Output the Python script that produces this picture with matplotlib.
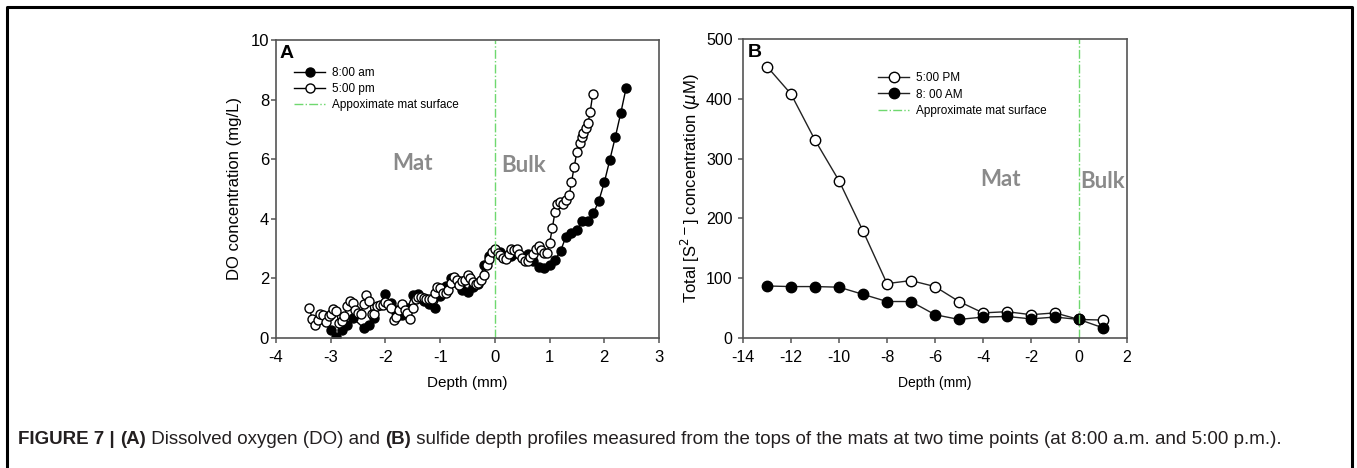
import matplotlib
matplotlib.use("Agg")
import matplotlib.pyplot as plt
from matplotlib.lines import Line2D

plt.rcParams["font.family"] = ["Liberation Sans", "DejaVu Sans"]
plt.rcParams["axes.unicode_minus"] = False

# ---- Panel A: dissolved oxygen (mg/L) vs depth (mm)
am_depth = [-3.0, -2.9, -2.8, -2.7, -2.6, -2.4, -2.3, -2.2, -2.0, -1.9, -1.8, -1.7,
            -1.6, -1.5, -1.4, -1.3, -1.2, -1.1, -1.0, -0.9, -0.8, -0.7, -0.6, -0.5,
            -0.4, -0.3, -0.2, -0.1, 0.0, 0.1, 0.2, 0.3, 0.4, 0.5, 0.6, 0.7, 0.8, 0.9,
            1.0, 1.1, 1.2, 1.3, 1.4, 1.5, 1.6, 1.7, 1.8, 1.9, 2.0, 2.1, 2.2, 2.3, 2.4]
am_do = [0.28, 0.03, 0.26, 0.45, 0.67, 0.34, 0.45, 0.67, 1.47, 1.17, 0.95, 0.78,
         1.00, 1.45, 1.49, 1.23, 1.15, 1.00, 1.40, 1.73, 2.03, 1.88, 1.62, 1.56,
         1.71, 1.81, 2.44, 2.76, 2.95, 2.88, 2.74, 2.74, 2.85, 2.72, 2.82, 2.60, 2.37, 2.34,
         2.45, 2.62, 2.92, 3.40, 3.51, 3.62, 3.93, 3.93, 4.18, 4.60, 5.22, 5.97, 6.73, 7.54, 8.40]

pm_depth = [-3.39, -3.34, -3.29, -3.24, -3.19, -3.14, -3.08, -3.04, -2.99, -2.95, -2.90,
            -2.85, -2.80, -2.75, -2.70, -2.65, -2.60, -2.55, -2.50, -2.45, -2.40, -2.35,
            -2.30, -2.25, -2.20, -2.15, -2.10, -2.05, -2.00, -1.95, -1.90, -1.85, -1.80,
            -1.75, -1.70, -1.65, -1.60, -1.55, -1.50, -1.45, -1.40, -1.35, -1.30, -1.25,
            -1.20, -1.15, -1.10, -1.05, -1.00, -0.95, -0.90, -0.85, -0.80, -0.75, -0.70,
            -0.65, -0.60, -0.55, -0.50, -0.45, -0.40, -0.35, -0.30, -0.25, -0.20, -0.15,
            -0.10, -0.05, 0.00, 0.05, 0.10, 0.15, 0.20, 0.25, 0.30, 0.35, 0.40, 0.45,
            0.50, 0.55, 0.60, 0.65, 0.70, 0.75, 0.80, 0.85, 0.90, 0.95, 1.00, 1.05,
            1.10, 1.14, 1.19, 1.24, 1.30, 1.36, 1.40, 1.45, 1.50, 1.55, 1.59, 1.62,
            1.66, 1.70, 1.74, 1.79]
pm_do = [1.01, 0.64, 0.45, 0.61, 0.80, 0.78, 0.54, 0.75, 0.80, 0.97, 0.89,
         0.50, 0.56, 0.73, 1.08, 1.23, 1.17, 0.93, 0.84, 0.82, 1.15, 1.43,
         1.25, 0.82, 0.80, 1.08, 1.12, 1.12, 1.20, 1.14, 1.01, 0.59, 0.70,
         0.93, 1.15, 0.93, 0.84, 0.65, 1.01, 1.32, 1.36, 1.36, 1.34, 1.32,
         1.32, 1.31, 1.51, 1.71, 1.68, 1.51, 1.51, 1.62, 1.84, 2.04, 1.93,
         1.79, 1.92, 1.95, 2.10, 2.00, 1.88, 1.80, 1.85, 1.95, 2.10, 2.45,
         2.65, 2.90, 2.97, 2.85, 2.80, 2.68, 2.65, 2.82, 3.00, 2.95, 3.00, 2.82,
         2.68, 2.57, 2.57, 2.72, 2.82, 3.00, 3.10, 2.95, 2.85, 2.84, 3.18, 3.68,
         4.24, 4.50, 4.57, 4.50, 4.63, 4.80, 5.22, 5.75, 6.24, 6.55, 6.75, 6.87,
         7.04, 7.20, 7.57, 8.19]

# ---- Panel B: total sulfide (uM) vs depth (mm)
s_depth = [-13, -12, -11, -10, -9, -8, -7, -6, -5, -4, -3, -2, -1, 0, 1]
s_pm = [454, 408, 331, 263, 179, 91, 96, 86, 61, 42, 44, 39, 42, 31, 30]
s_am = [87, 86, 86, 85, 73, 61, 61, 39, 31, 35, 36, 32, 35, 31, 17]

W, H = 1357, 468
fig = plt.figure(figsize=(W / 100, H / 100), dpi=100)

spine_c = "#555555"
green = "#6fd86f"
gray_txt = "#8a8a8a"


def style_axes(ax, size):
    for s in ax.spines.values():
        s.set_color(spine_c)
        s.set_linewidth(1.2)
    ax.tick_params(axis="both", direction="out", length=3.5, width=1.1,
                   color=spine_c, labelsize=size, top=False, right=False)
    ax.tick_params(axis="x", pad=5)


# panel A
axA = fig.add_axes([276 / W, 1 - 338 / H, 383 / W, 298 / H])
axA.plot(am_depth, am_do, "-o", color="black", lw=1, ms=6.5, mfc="black",
         mec="black", label="8:00 am")
axA.plot(pm_depth, pm_do, "-o", color="black", lw=1, ms=6.5, mfc="white",
         mec="black", mew=1, label="5:00 pm")
axA.axvline(0, color=green, lw=1, ls="-.", label="Appoximate mat surface")
axA.set_xlim(-4, 3)
axA.set_ylim(0, 10)
axA.set_xticks(range(-4, 4))
axA.set_yticks(range(0, 11, 2))
style_axes(axA, 12)
axA.tick_params(axis="y", pad=1.5)
axA.set_xlabel("Depth (mm)", fontsize=11, labelpad=8)
axA.set_ylabel("DO concentration (mg/L)", fontsize=12, labelpad=6)
axA.text(0.01, 0.955, "A", transform=axA.transAxes, fontsize=14,
         fontweight="bold", va="center", ha="left")
axA.text(-1.5, 5.87, "Mat", fontsize=16, fontweight="bold", color=gray_txt,
         family=["Lato", "DejaVu Sans"], ha="center", va="center")
axA.text(0.52, 5.8, "Bulk", fontsize=16, fontweight="bold", color=gray_txt,
         family=["Lato", "DejaVu Sans"], ha="center", va="center")
axA.legend(loc="upper left", bbox_to_anchor=(0.048, 0.91), frameon=False,
           fontsize=8.5, handlelength=2.6, handletextpad=0.6, labelspacing=0.35,
           borderaxespad=0, borderpad=0)

# panel B
axB = fig.add_axes([743 / W, 1 - 338 / H, 384 / W, 299 / H])
axB.plot(s_depth, s_pm, "-o", color="#222222", lw=1, ms=7.5, mfc="white",
         mec="black", mew=1, label="5:00 PM")
axB.plot(s_depth, s_am, "-o", color="#222222", lw=1, ms=7.5, mfc="black",
         mec="black", label="8: 00 AM")
axB.axvline(0, color=green, lw=1, ls="-.", label="Approximate mat surface")
axB.set_xlim(-14, 2)
axB.set_ylim(0, 500)
axB.set_xticks(range(-14, 3, 2))
axB.set_yticks(range(0, 501, 100))
style_axes(axB, 11.5)
axB.tick_params(axis="y", pad=4)
axB.set_xlabel("Depth (mm)", fontsize=10, labelpad=8)
axB.set_ylabel("Total [S$^{2-}$] concentration ($\\mu$M)", fontsize=12, labelpad=2)
axB.text(0.012, 0.955, "B", transform=axB.transAxes, fontsize=14,
         fontweight="bold", va="center", ha="left")
axB.text(-3.26, 265, "Mat", fontsize=16, fontweight="bold", color=gray_txt,
         family=["Lato", "DejaVu Sans"], ha="center", va="center")
axB.text(1.0, 262, "Bulk", fontsize=16, fontweight="bold", color=gray_txt,
         family=["Lato", "DejaVu Sans"], ha="center", va="center")
axB.legend(loc="upper left", bbox_to_anchor=(0.352, 0.89), frameon=False,
           fontsize=8.5, handlelength=2.6, handletextpad=0.6, labelspacing=0.4,
           borderaxespad=0, borderpad=0)

# outer frame (left, top, right)
fig.add_artist(Line2D([7 / W, 7 / W, 1352 / W, 1352 / W],
                      [0, 1 - 7 / H, 1 - 7 / H, 0],
                      transform=fig.transFigure, color="black", lw=2.2))

# caption with bold pieces
pieces = [("FIGURE 7 | ", "bold"), ("(A)", "bold"),
          (" Dissolved oxygen (DO) and ", "normal"), ("(B)", "bold"),
          (" sulfide depth profiles measured from the tops of the mats at two time "
           "points (at 8:00 a.m. and 5:00 p.m.).", "normal")]
fig.canvas.draw()
renderer = fig.canvas.get_renderer()
x = 18
for txt, wt in pieces:
    t = fig.text(x / W, 1 - 440 / H, txt, fontsize=13.5, fontweight=wt,
                 color="#231f20", va="center", ha="left")
    bb = t.get_window_extent(renderer)
    x += bb.width

fig.savefig("out.png", dpi=100)
